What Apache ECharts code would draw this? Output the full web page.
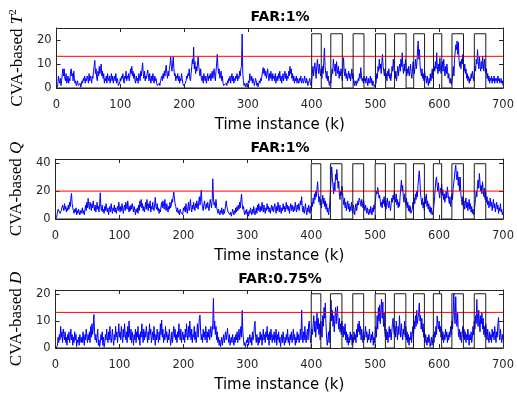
<!DOCTYPE html>
<html>
<head>
<meta charset="utf-8">
<script src="https://cdn.jsdelivr.net/npm/echarts@6/dist/echarts.min.js"></script>
<style>
html,body{margin:0;padding:0;background:#fff;}
#c{width:517px;height:394px;}
</style>
</head>
<body>
<div id="c"></div>
<script>
// ---- data ----
const titles = ['FAR:1%', 'FAR:1%', 'FAR:0.75%'];
const xTicks = [0, 100, 200, 300, 400, 500, 600, 700];
const yMax = [25, 43, 21.5];
const yInterval = [10, 20, 10];
const thresholds = [13.2, 20, 13.2];
const faultLevels = [22.6, 39.6, 20.1];
const faultStarts = [400, 430, 465, 500, 530, 560, 591, 620, 655];
const faultEnds = [415, 448, 482, 516, 548, 577, 604, 638, 673];

const tsq = [
0.2,1.5,5,3,2,4,1,3,6,8,5,8,4,3,6,2,3,5,2,4,
3,7,8,5,6,3,7,4,2,3,1,2,3,1,0.5,1,2,0.3,1,3,
2,4,3,5,2,4,3,5,4,2,6,3,5,4,2,5,4,7,9,11.5,
6,8,4,3,7,5,9,6,8,10,5,7,4,6,2,4,3,5,2,6,
4,3,5,2,4,6,3,5,2,4,5,3,6,2,4,3,1,0.3,2,4,
3,5,4,6,3,2,5,4,7,3,5,4,6,3,5,8,6,9,5,7,
4,6,3,2,5,3,4,2,6,5,3,7,5,8,10.5,6,4,7,3,5,
4,6,7.5,5,3,6,4,2,5,3,6,4,2,5,3,4,2,1,0.5,1.5,
2,1,3,4,5,3,6,4,7,5,8,9.5,6,4,7,5,8,10,13,9,
7,10,13,8,5,6,3,5,4,6,3,5,2,4,3,6,4,2,1,0.5,
1,2,3,5,4,6,5,8,4,3,6,9,12,10,17,8,11,6,9,7,
10,13,9,7,5,8,4,3,5,2,6,4,3,5,2,4,6,3,5,4,
6,3,5,7,4,6,8,5,3,7,10,14,9,6,8,4,5,7,3,5,
2,1,0.5,1,0.3,2,1,3,2,4,3,5,2,4,6,3,5,2,4,3,
5,4,6,3,5,4,7,5,8,9,22.5,6,3,1,2,0.5,1,2,0.3,1,
3,2,6,4,3,5,2,4,3,1,2,4,3,1,2,0.5,1,3,2,4,
3,5,7,8.5,6,8,5,7,4,6,8,5,3,6,4,7,5,3,6,4,
5,3,6,2,4,5,3,6,4,7,3,5,2,4,6,3,5,7,4,6,
3,5,4,7,5,9,6,8,4,6,3,5,2,4,3,5,2,4,3,2,
4,3,5,2,3,4,2,3,5,3,2,4,3,1,2,3,4,2,1,3,
6,9,5,8,10.5,7,4,9,12,8,6,10,7,5,8,4,9,6,11,16.7,
9,6,4,7,3,5,2,1,3,2,5,8,6,12,9,7,10,5,11,8,
6,9,4,7,5,8,6,3,9,12.6,7,5,8,4,6,3,5,7,4,6,
3,5,8,4,6,2,1,3,2,1,3,2,4,3,6,4,8.5,5,3,4,
2,5,3,4,2,5,3,1,4,2,3,5,2,4,1,3,2,0.5,1,0.3,
2,6,4,9,7,12,8,10,6,11,14,9,7,5,8,4,6,3,7,5,
8,4,6,3,5,9,7,12,8,6,4,7,3,6,9,5,8,10,7,12,
9,14.7,8,6,10,7,12,9,5,8,6,9,5,7,10,6,4,7,11,8,
6,9,12,8,10,16,19.6,12,16,9,7,5,8,4,6,3,7,5,4,2,
5,3,1,4,2,6,3,5,8,4,6,9,7,11,8,14.7,9,6,10,7,
12.6,8,6,9,11,7,12,8,5,9,6,10,7,4,6,3,2,4,1.5,3,
6,9,5,12,15,18,16,19.6,14,19,12,9,11,8,12,10,14,9,7,10,
6,8,4,6,3,5,2,4,3,6,4,7,5,3,6,9,7,12,10,16,
11,8,13,9,7,11,8,13.3,10,7,12,9,6,8,4,6,3,5,2,4,
3,5,2,4,3,5,2,4,3,4,2,5,3,4,2,3,4,2,3,1
];

const qStat = [
0.5,2,5,7,6,8,4,3,6,5,10,8,6,11,7,9,5,8,6,10,
7,12,9,15,18.3,11,8,6,4,7,5,8,3,6,4,7,5,3,6,4,
5,8,4,6,3,7,10,6,12,8,14.8,10,7,12,9,6,11,8,13,9,
6,10,5,8,12,7,9,5,11,18.8,8,6,10,5,7,4,9,6,11,7,
5,8,3,6,9,5,11,7,4,8,6,10,5,8,4,7,9,6,12,8,
5,9,6,11,7,4,8,10,6,12,9,7,13,8,5,9,6,10,7,11,
8,5,9,6,3,7,5,8,4,10,6,13,9,14,8,11,6,9,5,8,
12,7,14,9,6,11,8,13,5,9,7,12,8,6,10,15.5,9,7,11,6,
8,4,7,5,9,12,8,13,10,7,14,9,6,11,8,5,9,7,12,8,
10,14,12,16,19.3,15,11,9,7,5,8,4,6,3,7,5,4,6,3,8,
6,9,5,11,7,4,8,12,6,9,14,8,5,10,7,12,9,6,11,8,
13,10,7,12,16,10,15,20.7,12,8,6,10,13,9,7,11,8,12,9,6,
10,14,11,8,13,28.8,15,10,12,8,14,9,6,4,7,5,3,6,4,8,
5,3,7,4,6,10,13,9,7,5,4,6,3,5,2,4,7,5,3,6,
4,8,5,9,6,10,7,12,8,14,17.9,11,7,9,5,3,6,4,7,3,
5,2,6,4,8,5,3,7,4,9,6,3,5,8,4,10,6,11,7,5,
9,6,12,8,5,10,7,4,8,6,11,7,9,5,8,4,7,10,6,9,
5,8,11,7,4,9,6,12,8,5,10,7,4,8,6,11,7,9,5,8,
12,7,10,6,9,4,8,11,6,10,7,5,9,6,12,8,5,10,7,11,
6,9,13,10,16,8,5,9,4,7,11,6,3,8,5,10,7,4,9,6,
12,9,15,11,18,14,20,16,22,26.7,18,12,16,10,14,8,13,17,11,15,
9,13,7,11,5,8,3,6,12,20,28,37.4,30,24,18,26,20,32,28,35.5,
30,22,27,18,14,20,17,23.6,19,14,10,15,8,12,6,10,13,7,11,5,
9,6,12,8,4,10,7,3,8,11,6,9,13,10,15,16,12,9,14,11,
8,13,9,6,10,7,4,8,5,3,7,4,9,6,3,8,5,10,7,12,
16,20,18,22.6,19,15,17,13,9,12,8,14,11,16,9,13,7,12,15,10,
8,13,9,6,11,15,12,17,14,20,16,12,18,10,14,8,12,9,16,22,
27.9,20,24,16,12,18,14,10,15,8,12,6,10,5,9,4,3,7,12,9,
15,11,18,14,20,16,24,30,34.5,28,18,14,10,15,8,12,6,16,11,18,
9,13,7,11,5,9,4,8,3,2,6,10,16,22,28,30.2,24,20,26,18,
15,22,19,25,17,21,14,18,12,16,20,15,23,18,14,11,16,9,13,18,
14,22,26,30,35,38.6,32,28,34,24,30,20,30,18,14,10,16,9,13,7,
11,15,8,12,6,10,14,7,11,5,9,4,7,3,6,10,14,20,16,24,
28,22,32.6,26,20,24,18,26.7,21,16,22,14,19,12,16,10,13,8,11,15,
9,12,6,10,14,8,11,5,9,12,7,10,4,8,6,11,5,7,3,5
];

const dStat = [
0,0.5,1,4,2,5,3,8,4,6,2,7,5,3,6,2,4,1,5,3,
6,2,4,7,3,5,1,4,2,6,3,5,0.5,3,2,4,1,5,3,2,
4,2,6,3,1,5,3,7,4,2,5,3,6,2,8,4,9,5,7,12.4,
6,3,5,2,4,7,1,3,0.5,2,5,3,6,1,4,0.3,2,5,3,7,
4,2,6,3,8,5,2,4,7,3,1,5,3,8,4,6,2,5,9,4,
6,3,8,5,2,7,4,9,5,3,6,2,8,4,10,5,3,7,2,6,
4,1,5,3,7,2,6,4,8,3,5,1,6,4,9,5,2,7,3,6,
4,8,5,2,6,3,9,5,7,2,4,6,3,8,4,1,5,3,7,4,
2,6,3,9,5,10.4,4,7,2,5,3,8,4,6,2,5,3,7,4,1,
3,6,2,5,8,4,7,3,5,2,6,4,9,5,3,7,2,4,6,3,
5,2,7,4,9,5,3,8,4,10,6,3,7,2,5,4,8,3,6,2,
5,9,4,7,11.3,12.2,6,3,5,2,7,4,6,3,8,5,2,6,4,7,
3,5,8,4,6,9,18.4,7,10,5,8,3,6,2,4,1,3,0.5,2,4,
1,3,5,2,4,6,3,5,7.3,4,2,5,1,3,4,2,5,3,1,4,
2,5,3,6,2,4,7,3,5,8,4,13.9,6,3,1,2,0.3,1,3,2,
4,1,3,5,2,4,1,6,3,5,8,9.9,4,2,5,3,1,4,2,6,
3,5,1,4,7,3,5,2,6,4,8,3,5,1,6,3,7,4,2,5,
3,6,2,4,7,1,5,3,6,2,4,0.5,3,5,2,6,3,1,4,2,
5,3,7,2,4,1,5,3,6,2,4,7,3,5,1,4,2,6,3,5,
2,4,7,3,14.1,5,2,6,3,8,4,2,5,7,3,9,10,5,2,4,
7,5,9,12,6,10,4,8,13,7,11,5,9,3,10,6,4,12,8,15,
11,16.7,9,4,1,3,6,2,8,12,17.7,10,14,8,12,6,11,15,9,13,
15.5,10,7,11,6,9,5,10,7,4,8,5,9,3,6,2,5,1,4,2,
6,3,5,1,4,2,6,3,5,2,7,4,9,6,10,5,8,3,7,4,
2,6,3,5,8,4,6,2,5,3,7,4,2,5,3,6,1,4,2,5,
8,4,12,7,15,10,16,9,14,18,11,17,8,13,6,4,7,3,6,2,
5,8,4,7,3,6,9,11,7,5,8,4,10,6,3,8,5,12,7,4,
9,6,3,7,5,10,4,8,3,6,2,5,1,4,3,6,2,5,8,4,
10,7,12,8,14,9,11,13,16.7,10,12,7,11,6,9,4,7,2,5,3,
1,4,2,5,3,0.5,2,4,1,3,5,2,6,4,8,5,11.9,9,7,10,
6,8,4,7,3,6,2,5,3,7,4,6,2,5,3,6,4,8,5,10,
7,13,20.1,12,9,19,11,8,13,6,4,7,3,6,2,5,8,4,7,3,
6,2,5,3,7,4,1,5,3,6,2,4,8,5,10,7,12,9,18,11,
8,14,10,6,12,9,13,7,11,5,8,4,9,6,3,7,4,2,6,3,
5,2,7,4,6,3,8,5,2,6,4,9,11.3,5,3,7,4,2,5,3
];

const statSeries = [tsq, qStat, dStat];
const yNames = [
  '{n|CVA-based }{i|T}{s|2}',
  '{n|CVA-based }{i|Q}',
  '{n|CVA-based }{i|D}'
];

// ---- layout ----
const gridTops = [28, 159, 290];
const gridH = 60;
const axisColor = '#262626';
const tickFont = 'DejaVu Sans';

const chart = echarts.init(document.getElementById('c'), null, {renderer: 'canvas'});

const grids = [], xAxes = [], yAxes = [], series = [], titleArr = [];
for (let g = 0; g < 3; g++) {
  grids.push({left: 54, right: 11, top: gridTops[g], height: gridH, containLabel: false});
  titleArr.push({
    text: titles[g], left: 280, top: gridTops[g] - 18, textAlign: 'center', padding: 0,
    textStyle: {fontFamily: tickFont, fontWeight: 'bold', fontSize: 14, color: '#000'}
  });
  xAxes.push({
    type: 'value', gridIndex: g, min: xTicks[0], max: xTicks[xTicks.length - 1], interval: 100,
    position: 'bottom',
    axisLine: {show: true, onZero: false, lineStyle: {color: axisColor, width: 1}},
    axisTick: {show: true, inside: true, length: 4, lineStyle: {color: axisColor}},
    axisLabel: {show: true, margin: 11, color: axisColor, fontFamily: tickFont, fontSize: 11.5},
    splitLine: {show: false},
    name: 'Time instance (k)', nameLocation: 'middle', nameGap: 30,
    nameTextStyle: {fontFamily: tickFont, fontSize: 15, color: '#000'}
  });
  xAxes.push({
    type: 'value', gridIndex: g, min: xTicks[0], max: xTicks[xTicks.length - 1], interval: 100,
    position: 'top',
    axisLine: {show: true, onZero: false, lineStyle: {color: axisColor, width: 1}},
    axisTick: {show: true, inside: true, length: 4, lineStyle: {color: axisColor}},
    axisLabel: {show: false}, splitLine: {show: false}
  });
  const yFmt = v => (Math.abs(v / yInterval[g] - Math.round(v / yInterval[g])) < 1e-6 ? String(v) : '');
  yAxes.push({
    type: 'value', gridIndex: g, min: 0, max: yMax[g], interval: yInterval[g], position: 'left',
    axisLine: {show: true, onZero: false, lineStyle: {color: axisColor, width: 1}},
    axisTick: {show: true, inside: true, length: 4, lineStyle: {color: axisColor}},
    axisLabel: {show: true, margin: 5, color: axisColor, fontFamily: tickFont, fontSize: 11.5,
      formatter: yFmt, showMaxLabel: false},
    splitLine: {show: false},
    name: yNames[g], nameLocation: 'middle', nameRotate: 90, nameGap: 27,
    nameTextStyle: {
      color: '#000',
      rich: {
        n: {fontFamily: 'Liberation Serif', fontSize: 17, color: '#000'},
        i: {fontFamily: 'Liberation Serif', fontStyle: 'italic', fontSize: 17, color: '#000'},
        s: {fontFamily: 'Liberation Serif', fontSize: 11, color: '#000', verticalAlign: 'top', padding: [0, 0, 8, 0]}
      }
    }
  });
  yAxes.push({
    type: 'value', gridIndex: g, min: 0, max: yMax[g], interval: yInterval[g], position: 'right',
    axisLine: {show: true, onZero: false, lineStyle: {color: axisColor, width: 1}},
    axisTick: {show: true, inside: true, length: 4, lineStyle: {color: axisColor}},
    axisLabel: {show: false}, splitLine: {show: false}
  });

  const stat = statSeries[g];
  series.push({
    type: 'line', xAxisIndex: 2 * g, yAxisIndex: 2 * g,
    data: stat.map((v, i) => [i + 1, v]),
    showSymbol: false, symbol: 'none', silent: true,
    lineStyle: {color: '#0000FF', width: 1}, z: 2
  });
  series.push({
    type: 'line', xAxisIndex: 2 * g, yAxisIndex: 2 * g,
    data: [[xTicks[0], thresholds[g]], [xTicks[xTicks.length - 1], thresholds[g]]],
    showSymbol: false, symbol: 'none', silent: true,
    lineStyle: {color: '#FF0000', width: 1}, z: 3
  });
  const wave = [[xTicks[0], 0]];
  for (let j = 0; j < faultStarts.length; j++) {
    wave.push([faultStarts[j], 0], [faultStarts[j], faultLevels[g]],
              [faultEnds[j], faultLevels[g]], [faultEnds[j], 0]);
  }
  wave.push([xTicks[xTicks.length - 1], 0]);
  series.push({
    type: 'line', xAxisIndex: 2 * g, yAxisIndex: 2 * g,
    data: wave, showSymbol: false, symbol: 'none', silent: true,
    lineStyle: {color: '#1a1a1a', width: 1}, z: 4
  });
}

chart.setOption({
  animation: false,
  backgroundColor: '#fff',
  title: titleArr,
  grid: grids,
  xAxis: xAxes,
  yAxis: yAxes,
  series: series
});
</script>
</body>
</html>
